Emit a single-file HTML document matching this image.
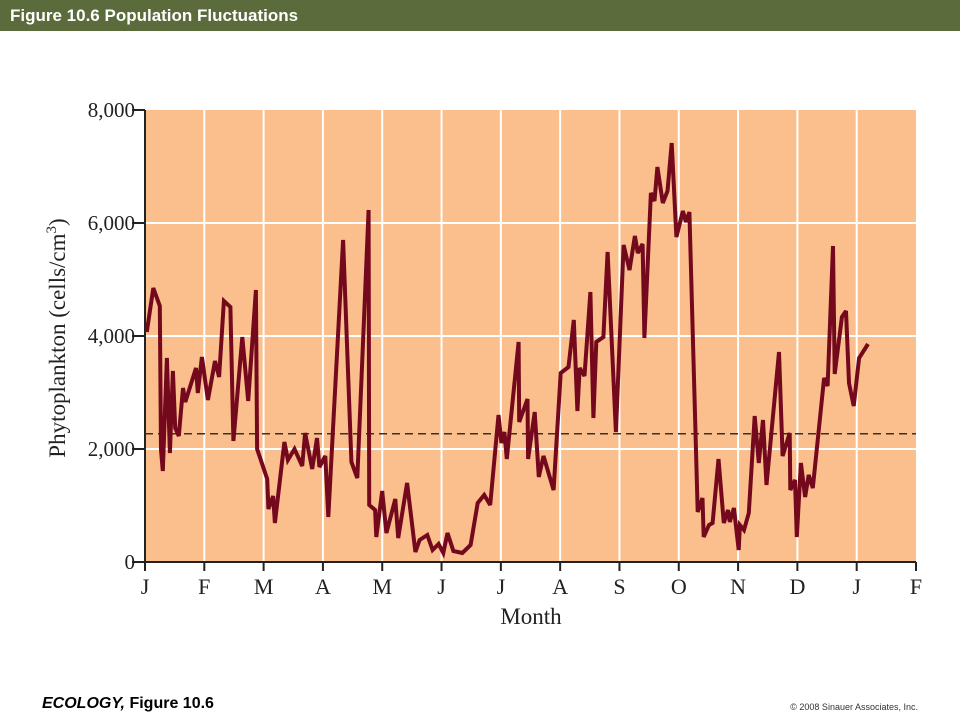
<!DOCTYPE html>
<html><head><meta charset="utf-8"><style>
body{margin:0;width:960px;height:720px;background:#fff;overflow:hidden;font-family:"Liberation Sans",sans-serif}
#hdr{position:absolute;left:0;top:0;width:960px;height:31px;background:#5b6b3b;color:#fff;font-weight:bold;font-size:17px;line-height:31px}
#hdr span{margin-left:10px}
#foot{position:absolute;left:42px;top:695px;font-weight:bold;font-style:italic;font-size:16px;color:#000}
#copy{position:absolute;right:42px;top:702px;font-size:9px;color:#333}
</style></head><body>
<div id="hdr"><span>Figure 10.6  Population Fluctuations</span></div>
<svg id="chart" width="960" height="720" style="position:absolute;left:0;top:0"></svg>
<div id="foot">ECOLOGY<span style="font-style:italic">,</span> <span style="font-style:normal">Figure 10.6</span></div>
<div id="copy">© 2008 Sinauer Associates, Inc.</div>
<script>
const monthLabels=["J","F","M","A","M","J","J","A","S","O","N","D","J","F"];
const yTicks=[0,2000,4000,6000,8000];
const yTickLabels=["0","2,000","4,000","6,000","8,000"];
const meanLevel=2270;
const timeMonths=[0.03,0.14,0.25,0.27,0.30,0.37,0.42,0.47,0.51,0.57,0.64,0.68,0.86,0.89,0.96,1.06,1.18,1.25,1.33,1.44,1.49,1.64,1.74,1.87,1.89,2.06,2.08,2.16,2.19,2.35,2.41,2.52,2.65,2.70,2.82,2.90,2.94,3.04,3.09,3.34,3.48,3.58,3.77,3.78,3.88,3.90,4.00,4.07,4.22,4.27,4.42,4.56,4.63,4.76,4.85,4.95,5.03,5.10,5.20,5.35,5.49,5.61,5.72,5.82,5.96,6.01,6.06,6.10,6.30,6.31,6.45,6.46,6.57,6.64,6.72,6.89,7.01,7.14,7.23,7.29,7.33,7.41,7.51,7.56,7.61,7.73,7.80,7.94,8.07,8.17,8.26,8.31,8.39,8.42,8.53,8.59,8.64,8.73,8.81,8.88,8.96,9.07,9.12,9.18,9.32,9.40,9.42,9.51,9.57,9.67,9.76,9.83,9.86,9.93,10.01,10.03,10.10,10.18,10.28,10.35,10.42,10.48,10.69,10.75,10.87,10.88,10.96,10.99,11.06,11.13,11.19,11.26,11.45,11.51,11.60,11.63,11.75,11.82,11.87,11.95,12.04,12.19];
const cells=[4071,4850,4531,1982,1611,3611,1929,3381,2372,2230,3080,2832,3434,2991,3629,2867,3558,3275,4620,4514,2142,3983,2850,4814,2000,1469,938,1168,690,2124,1805,2000,1699,2283,1646,2195,1682,1876,797,5699,1770,1487,6230,1009,920,443,1257,513,1115,425,1398,177,389,478,212,319,159,513,195,159,301,1044,1186,1009,2602,2106,2301,1823,3894,2478,2885,1823,2655,1505,1876,1274,3345,3452,4283,2673,3434,3292,4779,2549,3894,3983,5487,2301,5611,5168,5770,5469,5629,3965,6531,6390,6992,6354,6567,7416,5753,6213,6018,6195,885,1133,443,655,690,1823,690,920,708,956,212,655,566,867,2584,1752,2513,1363,3717,1876,2283,1274,1451,443,1752,1150,1540,1310,3257,3115,5593,3328,4337,4443,3168,2761,3611,3859];

const NS="http://www.w3.org/2000/svg";
const svg=document.getElementById('chart');
const L=145,R=916,T=110,B=562;
const xs=m=>L+m*(R-L)/13;
const ys=v=>B-v*(B-T)/8000;
function mk(tag,attrs,parent){const e=document.createElementNS(NS,tag);for(const k in attrs)e.setAttribute(k,attrs[k]);(parent||svg).appendChild(e);return e;}
const bg=mk('rect',{x:L,y:T,width:R-L,height:B-T,fill:'#fbbf8d'});


yTicks.forEach((v,i)=>{
  if(v>0&&v<8000){const g=mk('line',{x1:L,x2:R,y1:ys(v),y2:ys(v),stroke:'#fff','stroke-width':2});
  
  }
  const t=mk('line',{x1:L-13,x2:L,y1:ys(v),y2:ys(v),stroke:'#222','stroke-width':2});
  
  
  const lb=mk('text',{x:L-10,y:ys(v)+7,'text-anchor':'end','font-family':'Liberation Serif, serif','font-size':21,fill:'#222'});
  lb.textContent=yTickLabels[i];
  
  
});
monthLabels.forEach((m,i)=>{
  if(i>0&&i<13){const g=mk('line',{x1:xs(i),x2:xs(i),y1:T,y2:B,stroke:'#fff','stroke-width':2});
  
  }
  const t=mk('line',{x1:xs(i),x2:xs(i),y1:B,y2:B+9,stroke:'#222','stroke-width':2});
  
  
  const lb=mk('text',{x:xs(i),y:594,'text-anchor':'middle','font-family':'Liberation Serif, serif','font-size':22,fill:'#222'});
  lb.textContent=m;
  
  
});
const ya=mk('line',{x1:L,x2:L,y1:T,y2:B+1,stroke:'#222','stroke-width':2});


const xa=mk('line',{x1:L-1,x2:R,y1:B,y2:B,stroke:'#222','stroke-width':2});


const ml=mk('line',{x1:L,x2:R,y1:ys(meanLevel),y2:ys(meanLevel),stroke:'#333','stroke-width':1.5,'stroke-dasharray':'8,5'});


const pts=timeMonths.map((m,i)=>xs(m).toFixed(1)+','+ys(cells[i]).toFixed(1)).join(' ');
const ln=mk('polyline',{points:pts,fill:'none',stroke:'#74091e','stroke-width':4,'stroke-linejoin':'miter','stroke-miterlimit':3});


const xt=mk('text',{x:531,y:624,'text-anchor':'middle','font-family':'Liberation Serif, serif','font-size':23,fill:'#222'});
xt.textContent='Month';


const yt=mk('text',{x:0,y:0,'text-anchor':'middle','font-family':'Liberation Serif, serif','font-size':23,fill:'#222',transform:'translate(65,338) rotate(-90)'});
yt.textContent='Phytoplankton (cells/cm';
const sup=mk('tspan',{'font-size':15,dy:-9},yt);sup.textContent='3';
const cl=mk('tspan',{dy:9},yt);cl.textContent=')';


</script>
</body></html>
